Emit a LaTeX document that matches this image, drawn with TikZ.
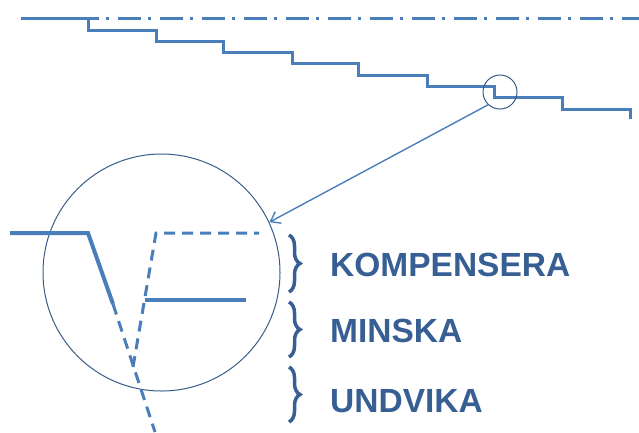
\documentclass[tikz,border=0pt]{standalone}
\usepackage{fontspec}
\setmainfont{Liberation Sans}
\usetikzlibrary{arrows.meta,decorations.pathreplacing}

\definecolor{linieblue}{HTML}{4A7EBB}
\definecolor{ringblue}{HTML}{385D8A}
\definecolor{textblue}{HTML}{375F93}

\begin{document}
\begin{tikzpicture}[x=1pt,y=-1pt,
    stairs/.style={linieblue,line width=3pt},
    axisline/.style={linieblue,line width=3pt,
      dash pattern=on 23pt off 7pt on 3pt off 9pt,dash phase=29pt},
    ring/.style={draw=ringblue,line width=1pt,circle,inner sep=0pt},
    thickline/.style={linieblue,line width=4pt},
    guide/.style={linieblue,line width=3pt,dash pattern=on 11pt off 7pt},
    bracket/.style={textblue,line width=3.5pt,decorate,
      decoration={brace,amplitude=11pt}},
    label/.style={textblue,anchor=west,inner sep=0pt,
      font=\fontsize{33.5}{40}\selectfont\bfseries}]
  \useasboundingbox (0,0) rectangle (639,432);

  % centre line and the staircase
  \draw[axisline] (21,18) -- (639,18);
  \draw[stairs] (21,18)
    \foreach \x/\y in {88/30,156/41,223/52,292/63,358/75,427/86,494/97,562/109,630/119}
      { -| (\x,\y) };

  % magnifier
  \node[ring,minimum size=34pt] (spot) at (500,92) {};
  \node[ring,minimum size=237pt] (lupe) at (161.5,272.5) {};
  \draw[linieblue,line width=1.4pt,-{Straight Barb[length=9pt,width=13pt]}]
    (spot.227) -- (lupe.25);

  % enlarged step
  \draw[thickline] (10,233) -- (88,233) -- (113,304);
  \draw[guide] (113,304) -- (155,432);
  \draw[guide] (133,367) -- (156,233) -- (259,233);
  \draw[thickline] (145,300) -- (246,300);

  % braces and texts
  \draw[bracket] (289,235) -- (289,292);
  \draw[bracket] (289,302) -- (289,357);
  \draw[bracket] (289,367) -- (289,422);
  \node[label] (komp) at (330,265) {KOMPENSERA};
  \node[label] (mins) at (330,331) {MINSKA};
  \node[label] (undv) at (330,401) {UNDVIKA};
\end{tikzpicture}
\end{document}
